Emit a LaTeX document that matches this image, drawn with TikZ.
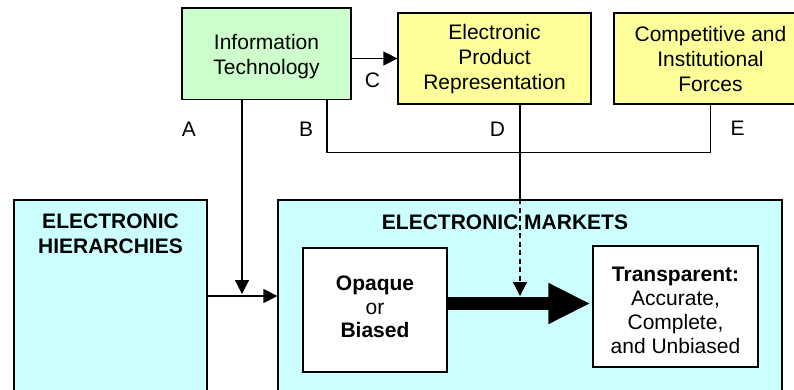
\documentclass[tikz,border=0pt]{standalone}
\usepackage{fontspec}
\setmainfont{Liberation Sans}
\usetikzlibrary{arrows.meta}
\definecolor{itgreen}{HTML}{CCFFCC}
\definecolor{epyellow}{HTML}{FFFF99}
\definecolor{mkcyan}{HTML}{CCFFFF}
\tikzset{
  box/.style={draw=black, line width=1.2bp, inner sep=0pt},
  txt/.style={inner sep=0pt, align=center, font=\fontsize{21bp}{25bp}\selectfont},
  lbl/.style={inner sep=0pt, font=\fontsize{21bp}{24.5bp}\selectfont},
  conn/.style={line width=1.2bp},
  tip/.style={-{Triangle[length=14bp,width=14bp]}},
}
\begin{document}
\begin{tikzpicture}[x=1bp,y=-1bp]
\useasboundingbox (0,0) rectangle (794,389);
\clip (0,0) rectangle (794,389);
% top boxes
\node[box, fill=itgreen, minimum width=169bp, minimum height=91.5bp] (it) at (266.5,53.75) {};
\node[txt] (itT) at ([yshift=-3bp]it.center) {Information\\Technology};
\node[box, fill=epyellow, minimum width=193bp, minimum height=91bp] (epr) at (494.5,58.5) {};
\node[txt] (eprT) at ([yshift=-1bp]epr.center) {Electronic\\Product\\Representation};
\node[box, fill=epyellow, minimum width=193bp, minimum height=91bp] (cif) at (710.5,58.5) {};
\node[txt] (cifT) at ([yshift=0bp]cif.center) {Competitive and\\Institutional\\Forces};
% lower boxes
\node[box, fill=mkcyan, minimum width=193bp, minimum height=200bp] (eh) at (110.5,300) {};
\node[box, fill=mkcyan, minimum width=504bp, minimum height=200bp] (em) at (530,300) {};
\node[txt, font=\fontsize{21bp}{24.5bp}\selectfont\bfseries] (ehT) at (110.5,234) {ELECTRONIC\\HIERARCHIES};
\node[txt, font=\fontsize{21bp}{24.5bp}\selectfont\bfseries] (emT) at (505,222) {ELECTRONIC MARKETS};
\node[box, fill=white, minimum width=144bp, minimum height=124bp] (opq) at (375,310) {};
\node[txt, font=\fontsize{21bp}{23.5bp}\selectfont] (opqT) at ([yshift=3bp]opq.center) {\textbf{Opaque}\\or\\\textbf{Biased}};
\node[box, fill=white, minimum width=165bp, minimum height=121bp] (trn) at (675.5,306.5) {};
\node[txt, font=\fontsize{21bp}{24bp}\selectfont] (trnT) at ([yshift=-4bp]trn.center) {\textbf{Transparent:}\\Accurate,\\Complete,\\and Unbiased};
% labels
\node[lbl] (la) at (189,129.5) {A};
\node[lbl] (lb) at (306,129.5) {B};
\node[lbl] (lc) at (372.5,80.5) {C};
\node[lbl] (ld) at (497.5,129.5) {D};
\node[lbl] (le) at (737.5,128) {E};
% coordinates
\coordinate (ax) at (242,0);
\coordinate (bx) at (327,0);
\coordinate (dx) at (520,0);
\coordinate (ex) at (710.5,0);
\coordinate (hy) at (0,296);
\coordinate (aend) at (242,294);
\coordinate (dend) at (520,296);
\coordinate (thy) at (0,303.5);
% connectors
\draw[conn, tip] (it.east |- epr.west) -- (epr.west);
\draw[conn, tip] (it.south -| ax) -- (aend);
\draw[conn, tip] (eh.east |- hy) -- (em.west |- hy);
\draw[conn] (it.south -| bx) -- ++(0,52) -| (cif.south -| ex);
\draw[conn] (epr.south -| dx) -- (em.north -| dx);
\draw[conn, tip, dash pattern=on 5bp off 3.5bp] (em.north -| dx) -- (dend);
\draw[line width=13bp, -{Triangle[length=42bp,width=38bp]}, shorten >=2bp] (opq.east |- thy) -- (trn.west |- thy);
\end{tikzpicture}
\end{document}
